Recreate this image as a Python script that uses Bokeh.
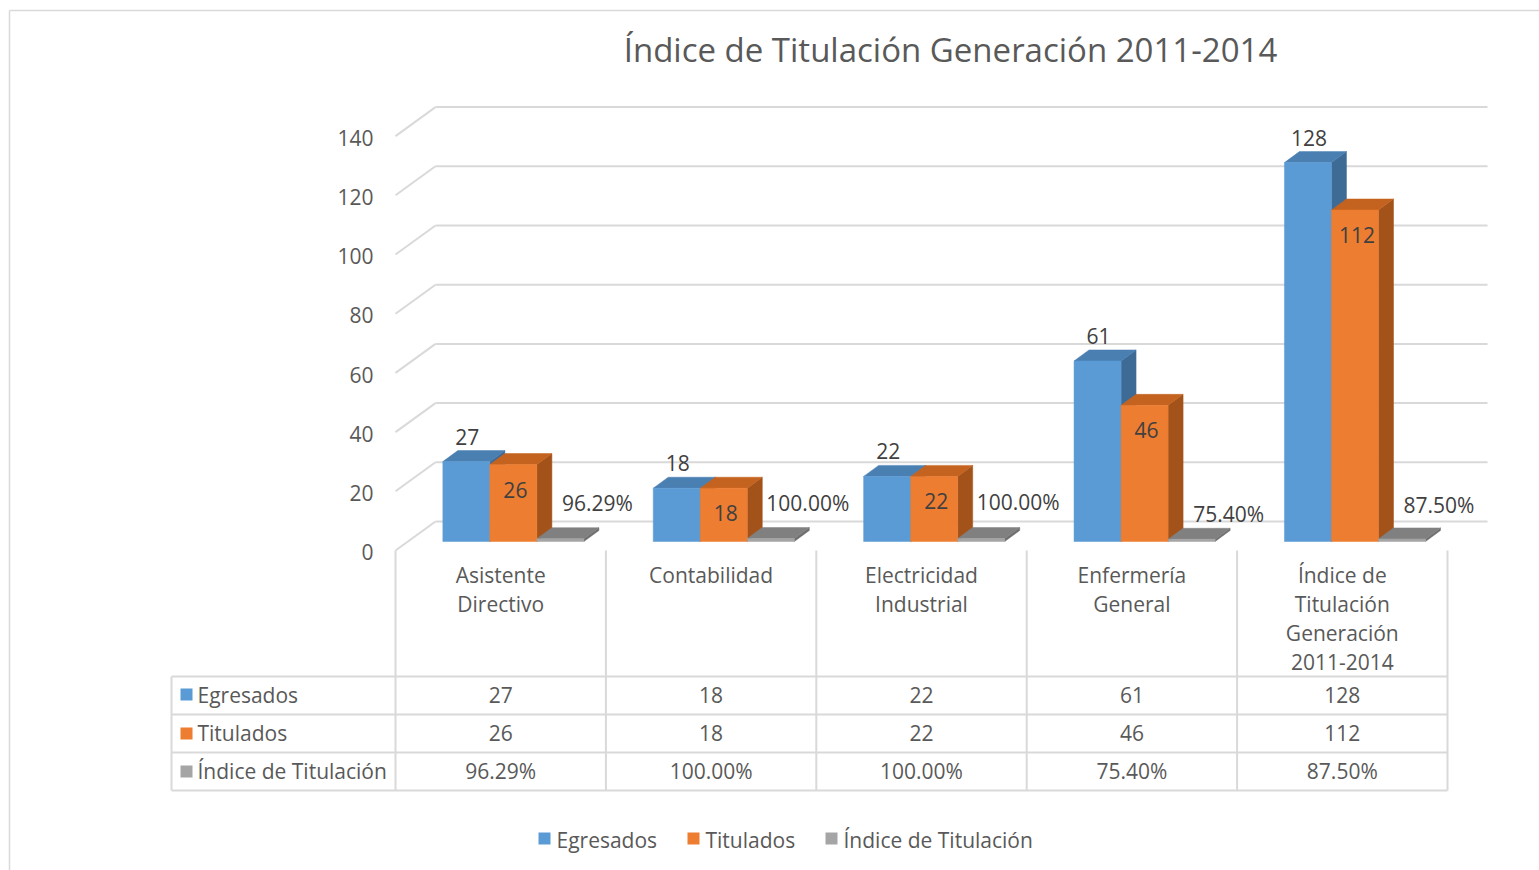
from bokeh.plotting import figure
from bokeh.models import Range1d
from bokeh.core.properties import value
from bokeh.embed import file_html
from bokeh.resources import INLINE

# ---------------- data ----------------
title = "Índice de Titulación Generación 2011-2014"
categories = [
    ["Asistente", "Directivo"],
    ["Contabilidad"],
    ["Electricidad", "Industrial"],
    ["Enfermería", "General"],
    ["Índice de", "Titulación", "Generación", "2011-2014"],
]
series_names = ["Egresados", "Titulados", "Índice de Titulación"]
egresados = [27, 18, 22, 61, 128]
titulados = [26, 18, 22, 46, 112]
indice = [0.9629, 1.0, 1.0, 0.7540, 0.8750]
indice_labels = ["96.29%", "100.00%", "100.00%", "75.40%", "87.50%"]
y_ticks = [0, 20, 40, 60, 80, 100, 120, 140]

# ---------------- styles ----------------
FONT = value("Open Sans")
FS = "21px"
TXT = "#595959"
LBL = "#404040"
GRID = "#D9D9D9"
front_cols = ["#5B9BD5", "#ED7D31", "#A5A5A5"]
top_cols = ["#4A7FB2", "#C4621F", "#808080"]
side_cols = ["#3E6B96", "#A3521A", "#6E6E6E"]

# layout (reference pixel geometry -> data units)
W, H = 1539, 870
OX, OY = 0, 0
CW = 210.4               # px per category
PY = 2.96                # px per value unit
X0PX, Y0PX = 395, 550    # front floor origin


def X(px):
    return (px - X0PX) / CW


def Y(py):
    return (Y0PX - py) / PY


p = figure(width=W, height=H, output_backend="svg", toolbar_location=None,
           x_range=Range1d(X(OX), X(OX + W)), y_range=Range1d(Y(OY + H), Y(OY)),
           min_border=0, outline_line_color=None)
p.axis.visible = False
p.grid.visible = False
p.background_fill_color = "white"
p.border_fill_color = "white"

# outer chart border
p.segment(x0=[X(9), X(9)], y0=[Y(10), Y(10)], x1=[X(1545), X(9)], y1=[Y(10), Y(880)],
          line_color=GRID, line_width=1.5)

# walls / gridlines
WALL_DX = 40 / CW
WALL_DY = 29 / PY
ncat = len(categories)
gx0, gy0, gx1, gy1 = [], [], [], []
for v in y_ticks:
    gx0 += [0, WALL_DX]
    gy0 += [v, v + WALL_DY]
    gx1 += [WALL_DX, ncat + WALL_DX]
    gy1 += [v + WALL_DY, v + WALL_DY]
p.segment(x0=gx0, y0=gy0, x1=gx1, y1=gy1, line_color=GRID, line_width=2)

# tick labels
p.text(x=[X(373)] * len(y_ticks), y=[t - 0.6 for t in y_ticks], text=[str(t) for t in y_ticks],
       text_align="right", text_baseline="middle", text_font=FONT,
       text_font_size=FS, text_color=TXT)

# 3D bars
BASE = (Y0PX - 541) / PY
BW = 0.2235
BOFF = 0.225
DDX = 15 / CW
DDY = 11 / PY
xs, ys, cols = [], [], []
series_vals = [egresados, titulados, indice]
for i in range(ncat):
    for s, vals in enumerate(series_vals):
        x0 = i + BOFF + s * BW
        x1 = x0 + BW
        b = BASE
        t = BASE + vals[i]
        xs.append([x1, x1 + DDX, x1 + DDX, x1])
        ys.append([b, b + DDY, t + DDY, t])
        cols.append(side_cols[s])
        xs.append([x0, x1, x1 + DDX, x0 + DDX])
        ys.append([t, t, t + DDY, t + DDY])
        cols.append(top_cols[s])
        xs.append([x0, x1, x1, x0])
        ys.append([b, b, t, t])
        cols.append(front_cols[s])
p.patches(xs=xs, ys=ys, fill_color=cols, line_color=cols, line_width=0.5)

# data labels
cx_b = [i + BOFF + 0.5 * BW for i in range(ncat)]
cx_o = [i + BOFF + 1.5 * BW for i in range(ncat)]
cx_g = [i + BOFF + 2.5 * BW for i in range(ncat)]
p.text(x=[c + 1 / CW for c in cx_b], y=[BASE + v + 25 / PY for v in egresados],
       text=[str(v) for v in egresados], text_align="center", text_baseline="middle",
       text_font=FONT, text_font_size=FS, text_color=LBL)
p.text(x=[c + 2 / CW for c in cx_o], y=[BASE + v - 25 / PY for v in titulados],
       text=[str(v) for v in titulados], text_align="center", text_baseline="middle",
       text_font=FONT, text_font_size=FS, text_color=LBL)
pct_dy = [36, 36, 37, 25, 34]
p.text(x=[c + 37 / CW for c in cx_g], y=[BASE + v + d / PY for v, d in zip(indice, pct_dy)],
       text=indice_labels, text_align="center", text_baseline="middle",
       text_font=FONT, text_font_size=FS, text_color=LBL)

# category labels
lx, ly, lt = [], [], []
for i, lines in enumerate(categories):
    for k, ln in enumerate(lines):
        lx.append(i + 0.5)
        ly.append(Y(574 + 29 * k))
        lt.append(ln)
p.text(x=lx, y=ly, text=lt, text_align="center", text_baseline="middle",
       text_font=FONT, text_font_size=FS, text_color=TXT)

# data table lines
row_edges = [676, 714, 752, 790]
tx0, ty0, tx1, ty1 = [], [], [], []
for r in row_edges:
    tx0.append(X(171)); ty0.append(Y(r)); tx1.append(ncat); ty1.append(Y(r))
tx0.append(X(171)); ty0.append(Y(676)); tx1.append(X(171)); ty1.append(Y(790))
for i in range(ncat + 1):
    tx0.append(i); ty0.append(0); tx1.append(i); ty1.append(Y(790))
p.segment(x0=tx0, y0=ty0, x1=tx1, y1=ty1, line_color=GRID, line_width=2)

# table contents
row_y = [Y(694), Y(732), Y(770)]
row_texts = [[str(v) for v in egresados], [str(v) for v in titulados], indice_labels]
cx, cy, ct = [], [], []
for r, texts in enumerate(row_texts):
    for i, t in enumerate(texts):
        cx.append(i + 0.5); cy.append(row_y[r]); ct.append(t)
p.text(x=cx, y=cy, text=ct, text_align="center", text_baseline="middle",
       text_font=FONT, text_font_size=FS, text_color=TXT)

SQ = 12
sq_y = [Y(694), Y(733), Y(771)]
p.quad(left=[X(180)] * 3, right=[X(180 + SQ)] * 3,
       bottom=[y - SQ / 2 / PY for y in sq_y], top=[y + SQ / 2 / PY for y in sq_y],
       fill_color=front_cols, line_color=None)
p.text(x=[X(197)] * 3, y=row_y, text=series_names, text_align="left",
       text_baseline="middle", text_font=FONT, text_font_size=FS, text_color=TXT)

# legend
leg_y = Y(838)
leg_sq = [538, 687, 825]
p.quad(left=[X(a) for a in leg_sq], right=[X(a + SQ) for a in leg_sq],
       bottom=[leg_y - SQ / 2 / PY] * 3, top=[leg_y + SQ / 2 / PY] * 3,
       fill_color=front_cols, line_color=None)
p.text(x=[X(a + 18) for a in leg_sq], y=[leg_y - 0.4] * 3, text=series_names,
       text_align="left", text_baseline="middle", text_font=FONT,
       text_font_size=FS, text_color=TXT)

# title
p.text(x=[X(950)], y=[Y(49)], text=[title], text_align="center", text_baseline="middle",
       text_font=FONT, text_font_size="33px", text_color=TXT)

open("out.html", "w").write(file_html(p, INLINE))
